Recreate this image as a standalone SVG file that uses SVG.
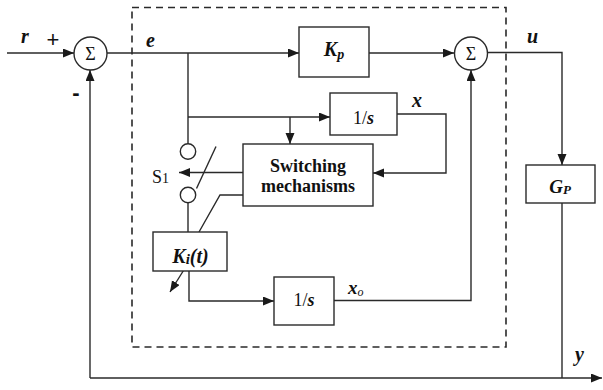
<svg xmlns="http://www.w3.org/2000/svg" width="603" height="390" viewBox="0 0 603 390" font-family="'Liberation Serif', 'Times New Roman', Times, serif">
<style>
.ln{fill:none;stroke:#2a2a2a;stroke-width:1.4}
.bx{fill:#fff;stroke:#2a2a2a;stroke-width:1.4}
.dash{fill:none;stroke:#2a2a2a;stroke-width:1.6;stroke-dasharray:7 5}
.lbl{font-weight:bold;font-style:italic;fill:#111}
.rm{fill:#111}
.sw{font-weight:bold;fill:#111;font-size:18px}
</style>
<defs>
<marker id="ah" markerUnits="userSpaceOnUse" markerWidth="12" markerHeight="10" refX="11" refY="4.5" orient="auto">
<path d="M0,0 L11,4.5 L0,9 z" fill="#1a1a1a"/>
</marker>
</defs>
<rect class="dash" x="132" y="7.5" width="374" height="339.5"/>
<g id="connectors">
<line class="ln" x1="7" y1="53" x2="74" y2="53" marker-end="url(#ah)"/>
<line class="ln" x1="107" y1="53" x2="299" y2="53" marker-end="url(#ah)"/>
<line class="ln" x1="369" y1="53" x2="454" y2="53" marker-end="url(#ah)"/>
<polyline class="ln" points="487,52.5 562,52.5 562,165" marker-end="url(#ah)"/>
<line class="ln" x1="562" y1="203" x2="562" y2="378"/>
<line class="ln" x1="90" y1="378" x2="602" y2="378" marker-end="url(#ah)"/>
<line class="ln" x1="90" y1="378" x2="90" y2="70" marker-end="url(#ah)"/>
<line class="ln" x1="188" y1="53" x2="188" y2="144"/>
<line class="ln" x1="188" y1="117" x2="330" y2="117" marker-end="url(#ah)"/>
<line class="ln" x1="290" y1="117" x2="290" y2="144" marker-end="url(#ah)"/>
<polyline class="ln" points="397,114 446,114 446,173 373,173" marker-end="url(#ah)"/>
<line class="ln" x1="243" y1="172.5" x2="179" y2="172.5" marker-end="url(#ah)"/>
<polyline class="ln" points="243,195 220,195 199,232"/>
<line class="ln" x1="196.5" y1="188.5" x2="216" y2="146.5"/>
<line class="ln" x1="188" y1="203" x2="188" y2="232"/>
<line class="ln" x1="183.5" y1="270.5" x2="170" y2="292" marker-end="url(#ah)"/>
<polyline class="ln" points="189,271 189,301 274,301" marker-end="url(#ah)"/>
<polyline class="ln" points="334,300.5 471,300.5 471,70" marker-end="url(#ah)"/>
</g>
<g id="sum1">
<circle class="bx" cx="90.5" cy="53.5" r="16.5"/>
<text class="rm" x="90.5" y="60" font-size="18" text-anchor="middle">Σ</text>
</g>
<g id="sum2">
<circle class="bx" cx="471" cy="53.5" r="16.5"/>
<text class="rm" x="471" y="60" font-size="18" text-anchor="middle">Σ</text>
</g>
<g id="kp">
<rect class="bx" x="299" y="27" width="70" height="50"/>
<text class="lbl" x="334" y="56" font-size="20" text-anchor="middle">K<tspan font-size="14" dy="3">p</tspan></text>
</g>
<g id="integrator1">
<rect class="bx" x="330" y="93" width="67" height="42"/>
<text class="rm" x="363.5" y="124" font-size="18" text-anchor="middle">1/<tspan font-weight="bold" font-style="italic">s</tspan></text>
</g>
<g id="switching">
<rect class="bx" x="243" y="144" width="130" height="62"/>
<text class="sw" x="308" y="171.5" text-anchor="middle">Switching</text>
<text class="sw" x="308" y="191.5" text-anchor="middle">mechanisms</text>
</g>
<g id="switch-s1">
<circle class="bx" cx="188" cy="151.5" r="7.7"/>
<circle class="bx" cx="188" cy="195" r="7.7"/>
<text class="rm" x="152" y="183" font-size="18">S<tspan font-size="14">1</tspan></text>
</g>
<g id="ki">
<rect class="bx" x="153" y="232" width="74" height="39"/>
<text class="lbl" x="190.5" y="263" font-size="20" text-anchor="middle">K<tspan font-size="15" dy="1">i</tspan><tspan dy="-1">(t)</tspan></text>
</g>
<g id="integrator2">
<rect class="bx" x="274" y="277" width="60" height="48"/>
<text class="rm" x="304" y="306" font-size="18" text-anchor="middle">1/<tspan font-weight="bold" font-style="italic">s</tspan></text>
</g>
<g id="gp">
<rect class="bx" x="526" y="165" width="69" height="38"/>
<text class="lbl" x="560" y="193" font-size="19" text-anchor="middle">G<tspan font-size="13" dy="1">P</tspan></text>
</g>
<g id="labels">
<text class="lbl" x="21" y="43" font-size="20">r</text>
<text x="53" y="47" font-size="22" text-anchor="middle" font-family="'Liberation Sans', Arial, sans-serif" fill="#111">+</text>
<text x="76" y="100" font-size="22" text-anchor="middle" font-family="'Liberation Sans', Arial, sans-serif" font-weight="bold" fill="#111">-</text>
<text class="lbl" x="146" y="47" font-size="20">e</text>
<text class="lbl" x="527" y="43" font-size="20">u</text>
<text class="lbl" x="412" y="107" font-size="20">x</text>
<text class="lbl" x="348" y="294" font-size="19">x<tspan font-size="12" font-weight="normal" dy="2">o</tspan></text>
<text class="lbl" x="575" y="361" font-size="20">y</text>
</g>
</svg>
